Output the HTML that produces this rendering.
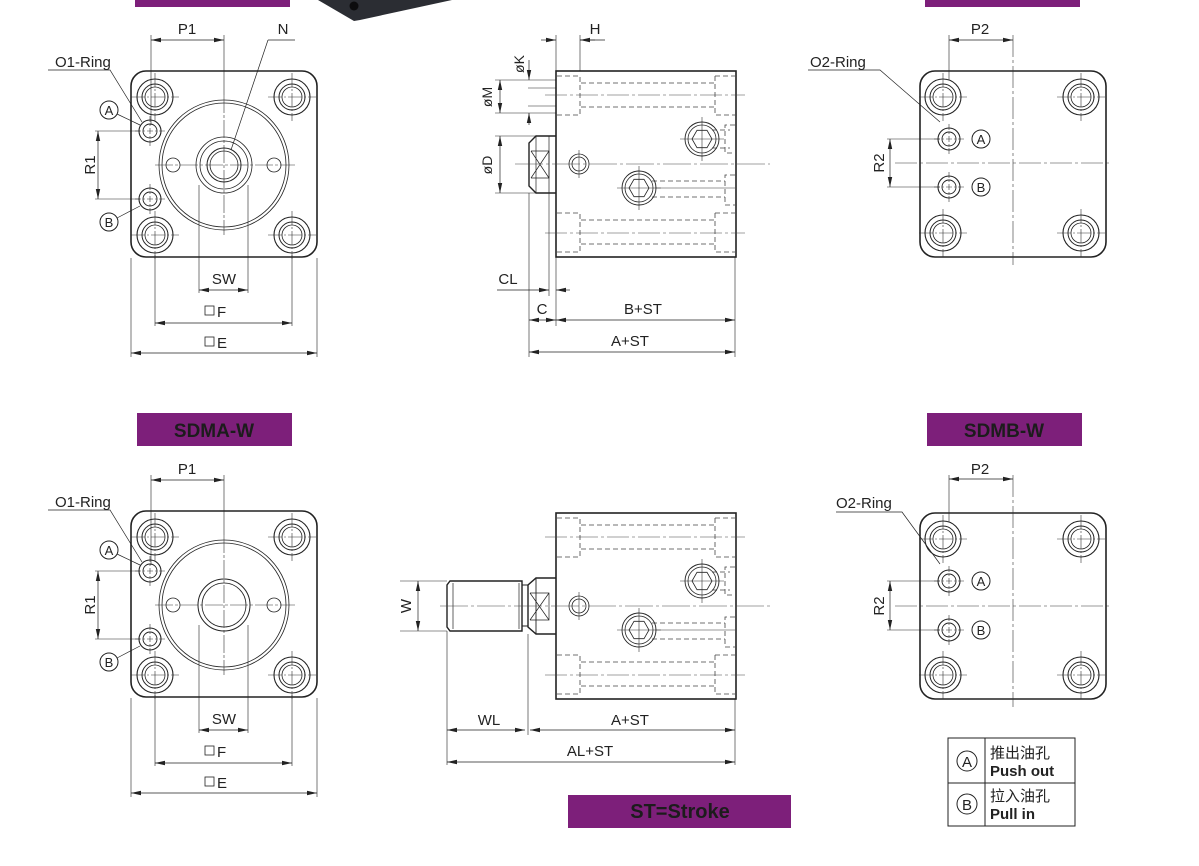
<!DOCTYPE html>
<html><head><meta charset="utf-8"><style>
html,body{margin:0;padding:0;background:#fff;}
svg{display:block;}
text{font-family:"Liberation Sans","Noto Sans CJK SC",sans-serif;fill:#222;}
</style></head><body>
<svg width="1199" height="866" viewBox="0 0 1199 866" xmlns="http://www.w3.org/2000/svg">
<defs>
<marker id="ar" viewBox="0 0 10 6" refX="10" refY="3" markerWidth="10" markerHeight="6" orient="auto-start-reverse" markerUnits="userSpaceOnUse">
<path d="M0,0.8 L10,3 L0,5.2z" fill="#222"/></marker>
<g id="chole">
<circle r="18" fill="none" stroke="#222" stroke-width="1.1"/>
<circle r="13" fill="none" stroke="#222" stroke-width="1"/>
<circle r="10" fill="none" stroke="#222" stroke-width="0.8"/>
<path d="M-24,0H24M0,-24V24" stroke="#333" stroke-width="0.6" stroke-dasharray="14,2,2,2"/>
</g>
<g id="port">
<circle r="11" fill="none" stroke="#222" stroke-width="1.1"/>
<circle r="7" fill="none" stroke="#222" stroke-width="0.9"/>
<path d="M-15,0H15M0,-15V15" stroke="#333" stroke-width="0.6" stroke-dasharray="6,2,2,2"/>
</g>
<g id="circA"><circle r="9" fill="#fff" stroke="#222" stroke-width="1"/><text y="5" text-anchor="middle" font-size="13">A</text></g>
<g id="circB"><circle r="9" fill="#fff" stroke="#222" stroke-width="1"/><text y="5" text-anchor="middle" font-size="13">B</text></g>
<g id="bolt">
<circle r="17" fill="none" stroke="#222" stroke-width="0.9"/>
<circle r="14" fill="none" stroke="#222" stroke-width="0.8"/>
<polygon points="-10,0 -5,-8.7 5,-8.7 10,0 5,8.7 -5,8.7" fill="none" stroke="#222" stroke-width="0.8"/>
<path d="M-22,0H22M0,-22V22" stroke="#333" stroke-width="0.6"/>
</g>
<g id="body">
<rect x="556" y="71" width="180" height="186" fill="none" stroke="#222" stroke-width="1.6"/>
<g fill="none" stroke="#444" stroke-width="0.8" stroke-dasharray="5,3">
<path d="M557,76H580V115H557M581,83H715M581,107H715M715,76H735M715,76V115H735"/>
<path d="M557,213H580V252H557M581,220H715M581,244H715M715,213H735M715,213V252H735"/>
<path d="M735,125H725V153H735M735,175H725V205H735"/>
<path d="M712,130H730M712,148H730M652,181H725M652,197H725"/>
</g>
<path d="M545,95H745M545,233H745" stroke="#444" stroke-width="0.6" stroke-dasharray="22,3,3,3"/>
<use href="#bolt" x="702" y="139"/>
<use href="#bolt" x="639" y="188"/>
<circle cx="579" cy="164" r="10" fill="none" stroke="#222" stroke-width="0.8"/>
<circle cx="579" cy="164" r="7" fill="none" stroke="#222" stroke-width="0.8"/>
<path d="M579,150V178" stroke="#333" stroke-width="0.6"/>
<path d="M655,188H735" stroke="#333" stroke-width="0.6"/>
</g>
<g id="plate1">
<rect x="131" y="71" width="186" height="186" rx="15" fill="none" stroke="#222" stroke-width="1.6"/>
<use href="#chole" x="155" y="97"/><use href="#chole" x="292" y="97"/>
<use href="#chole" x="155" y="235"/><use href="#chole" x="292" y="235"/>
<use href="#port" x="150" y="131"/><use href="#port" x="150" y="199"/>
<circle cx="224" cy="165" r="65" fill="none" stroke="#222" stroke-width="0.8"/>
<circle cx="224" cy="165" r="62" fill="none" stroke="#222" stroke-width="0.8"/>
<circle cx="173" cy="165" r="7" fill="none" stroke="#222" stroke-width="0.8"/>
<circle cx="274" cy="165" r="7" fill="none" stroke="#222" stroke-width="0.8"/>
<path d="M155,165H295M224,95V235" stroke="#333" stroke-width="0.6" stroke-dasharray="18,2,3,2"/>
<use href="#circA" x="109" y="110"/><use href="#circB" x="109" y="222"/>
<path d="M117,114L140,125M117,218L140,206" stroke="#222" stroke-width="0.7"/>
<path d="M48,70H110L142,122" stroke="#222" stroke-width="0.7" fill="none"/>
<path d="M95,131H140M95,199H140M151,35V125" stroke="#222" stroke-width="0.6"/>
<line x1="98" y1="131" x2="98" y2="199" stroke="#222" stroke-width="0.7" marker-start="url(#ar)" marker-end="url(#ar)"/>
<text transform="translate(95,165) rotate(-90)" text-anchor="middle" font-size="15">R1</text>
<line x1="151" y1="40" x2="224" y2="40" stroke="#222" stroke-width="0.7" marker-start="url(#ar)" marker-end="url(#ar)"/>
<path d="M224,35V95" stroke="#222" stroke-width="0.6"/>
<text x="187" y="34" text-anchor="middle" font-size="15">P1</text>
<text x="55" y="67" font-size="15">O1-Ring</text>
<path d="M155,255V326M292,255V326M131,258V357M317,258V357" stroke="#222" stroke-width="0.6"/>
<line x1="155" y1="323" x2="292" y2="323" stroke="#222" stroke-width="0.7" marker-start="url(#ar)" marker-end="url(#ar)"/>
<line x1="131" y1="353" x2="317" y2="353" stroke="#222" stroke-width="0.7" marker-start="url(#ar)" marker-end="url(#ar)"/>
<rect x="205" y="306" width="9" height="9" fill="none" stroke="#222" stroke-width="0.8"/><text x="217" y="317" font-size="15">F</text>
<rect x="205" y="337" width="9" height="9" fill="none" stroke="#222" stroke-width="0.8"/><text x="217" y="348" font-size="15">E</text>
</g>
<g id="plate2">
<rect x="920" y="71" width="186" height="186" rx="15" fill="none" stroke="#222" stroke-width="1.6"/>
<use href="#chole" x="943" y="97"/><use href="#chole" x="1081" y="97"/>
<use href="#chole" x="943" y="233"/><use href="#chole" x="1081" y="233"/>
<use href="#port" x="949" y="139"/><use href="#port" x="949" y="187"/>
<use href="#circA" x="981" y="139"/><use href="#circB" x="981" y="187"/>
<path d="M895,163H1112" stroke="#333" stroke-width="0.6" stroke-dasharray="22,3,3,3"/>
<path d="M1013,35V265" stroke="#333" stroke-width="0.6" stroke-dasharray="22,3,3,3"/>
<path d="M949,35V80M887,139H940M887,187H940" stroke="#222" stroke-width="0.6"/>
<line x1="949" y1="40" x2="1013" y2="40" stroke="#222" stroke-width="0.7" marker-start="url(#ar)" marker-end="url(#ar)"/>
<line x1="890" y1="139" x2="890" y2="187" stroke="#222" stroke-width="0.7" marker-start="url(#ar)" marker-end="url(#ar)"/>
<text x="980" y="34" text-anchor="middle" font-size="15">P2</text>
<text transform="translate(884,163) rotate(-90)" text-anchor="middle" font-size="15">R2</text>
</g>
</defs>

<!-- top banners / photo -->
<rect x="135" y="0" width="155" height="7" fill="#7d1f7a"/>
<rect x="925" y="0" width="155" height="7" fill="#7d1f7a"/>
<polygon points="318,0 452,0 360,20 354,21" fill="#2b2d33"/>
<circle cx="354" cy="6" r="4.5" fill="#0c0c0e"/>

<!-- TOP LEFT -->
<use href="#plate1"/>
<circle cx="224" cy="165" r="28" fill="none" stroke="#222" stroke-width="0.8"/>
<circle cx="224" cy="165" r="24" fill="none" stroke="#222" stroke-width="0.8"/>
<circle cx="224" cy="165" r="17" fill="none" stroke="#222" stroke-width="1"/>
<circle cx="224" cy="165" r="14" fill="none" stroke="#222" stroke-width="0.8"/>
<path d="M199,185V293M248,185V293" stroke="#222" stroke-width="0.6"/>
<line x1="199" y1="290" x2="248" y2="290" stroke="#222" stroke-width="0.7" marker-start="url(#ar)" marker-end="url(#ar)"/>
<text x="224" y="284" text-anchor="middle" font-size="15">SW</text>
<path d="M268,40H295M268,40L231,150" stroke="#222" stroke-width="0.7" fill="none"/>
<text x="283" y="34" text-anchor="middle" font-size="15">N</text>

<!-- TOP MIDDLE -->
<use href="#body"/>
<path d="M556,136H536L529,143V186L536,193H556" fill="none" stroke="#222" stroke-width="1.4"/>
<path d="M536,136V193M549,136V193" stroke="#222" stroke-width="0.7"/>
<path d="M531,151L549,178M549,151L531,178M531,151H549V178H531" fill="none" stroke="#222" stroke-width="0.7"/>
<path d="M515,164H770" stroke="#444" stroke-width="0.6" stroke-dasharray="28,3,3,3"/>
<path d="M556,35V71M580,35V71" stroke="#222" stroke-width="0.6"/>
<line x1="541" y1="40" x2="556" y2="40" stroke="#222" stroke-width="0.7" marker-end="url(#ar)"/>
<line x1="595" y1="40" x2="580" y2="40" stroke="#222" stroke-width="0.7" marker-end="url(#ar)"/>
<line x1="580" y1="40" x2="605" y2="40" stroke="#222" stroke-width="0.7"/>
<text x="595" y="34" text-anchor="middle" font-size="15">H</text>
<path d="M495,80H556M495,113H556M495,136H536M495,193H536M528,88H556M528,106H556" stroke="#222" stroke-width="0.6"/>
<line x1="500" y1="80" x2="500" y2="113" stroke="#222" stroke-width="0.7" marker-start="url(#ar)" marker-end="url(#ar)"/>
<line x1="529" y1="60" x2="529" y2="80" stroke="#222" stroke-width="0.7" marker-end="url(#ar)"/>
<line x1="529" y1="125" x2="529" y2="113" stroke="#222" stroke-width="0.7" marker-end="url(#ar)"/>
<line x1="500" y1="136" x2="500" y2="193" stroke="#222" stroke-width="0.7" marker-start="url(#ar)" marker-end="url(#ar)"/>
<text transform="translate(492,97) rotate(-90)" text-anchor="middle" font-size="14">øM</text>
<text transform="translate(524,64) rotate(-90)" text-anchor="middle" font-size="14">øK</text>
<text transform="translate(492,165) rotate(-90)" text-anchor="middle" font-size="14">øD</text>
<path d="M529,193V357M549,193V296M556,257V326M735,257V357" stroke="#222" stroke-width="0.6"/>
<line x1="497" y1="290" x2="549" y2="290" stroke="#222" stroke-width="0.7" marker-end="url(#ar)"/>
<line x1="570" y1="290" x2="556" y2="290" stroke="#222" stroke-width="0.7" marker-end="url(#ar)"/>
<text x="508" y="284" text-anchor="middle" font-size="15">CL</text>
<line x1="529" y1="320" x2="556" y2="320" stroke="#222" stroke-width="0.7" marker-start="url(#ar)" marker-end="url(#ar)"/>
<text x="542" y="314" text-anchor="middle" font-size="15">C</text>
<line x1="556" y1="320" x2="735" y2="320" stroke="#222" stroke-width="0.7" marker-start="url(#ar)" marker-end="url(#ar)"/>
<text x="643" y="314" text-anchor="middle" font-size="15">B+ST</text>
<line x1="529" y1="352" x2="735" y2="352" stroke="#222" stroke-width="0.7" marker-start="url(#ar)" marker-end="url(#ar)"/>
<text x="630" y="346" text-anchor="middle" font-size="15">A+ST</text>

<!-- TOP RIGHT -->
<use href="#plate2"/>
<path d="M808,70H880L940,122" stroke="#222" stroke-width="0.7" fill="none"/>
<text x="810" y="67" font-size="15">O2-Ring</text>

<!-- banners middle -->
<rect x="137" y="413" width="155" height="33" fill="#7d1f7a"/>
<text x="214" y="437" text-anchor="middle" font-size="19" font-weight="bold" style="fill:#1c1c1c">SDMA-W</text>
<rect x="927" y="413" width="155" height="33" fill="#7d1f7a"/>
<text x="1004" y="437" text-anchor="middle" font-size="19" font-weight="bold" style="fill:#1c1c1c">SDMB-W</text>

<!-- BOTTOM LEFT -->
<use href="#plate1" y="440"/>
<circle cx="224" cy="605" r="26" fill="none" stroke="#222" stroke-width="1"/>
<circle cx="224" cy="605" r="22" fill="none" stroke="#222" stroke-width="0.8"/>
<path d="M199,625V733M248,625V733" stroke="#222" stroke-width="0.6"/>
<line x1="199" y1="730" x2="248" y2="730" stroke="#222" stroke-width="0.7" marker-start="url(#ar)" marker-end="url(#ar)"/>
<text x="224" y="724" text-anchor="middle" font-size="15">SW</text>

<!-- BOTTOM MIDDLE -->
<use href="#body" y="442"/>
<path d="M556,578H536L528,585V627L536,634H556" fill="none" stroke="#222" stroke-width="1.4"/>
<path d="M528,585H522V626H528M536,578V634" stroke="#222" stroke-width="0.9" fill="none"/>
<path d="M530,593L549,620M549,593L530,620M530,593H549V620H530" fill="none" stroke="#222" stroke-width="0.7"/>
<path d="M522,581H450L447,585V627L450,631H522Z" fill="none" stroke="#222" stroke-width="1.4"/>
<path d="M453,583V629M519,583V629" stroke="#222" stroke-width="0.7"/>
<path d="M440,606H770" stroke="#444" stroke-width="0.6" stroke-dasharray="28,3,3,3"/>
<path d="M400,581H447M400,631H447" stroke="#222" stroke-width="0.6"/>
<line x1="418" y1="581" x2="418" y2="631" stroke="#222" stroke-width="0.7" marker-start="url(#ar)" marker-end="url(#ar)"/>
<text transform="translate(411,606) rotate(-90)" text-anchor="middle" font-size="15">W</text>
<path d="M447,631V765M528,634V735M735,699V765" stroke="#222" stroke-width="0.6"/>
<line x1="447" y1="730" x2="525" y2="730" stroke="#222" stroke-width="0.7" marker-start="url(#ar)" marker-end="url(#ar)"/>
<line x1="530" y1="730" x2="735" y2="730" stroke="#222" stroke-width="0.7" marker-start="url(#ar)" marker-end="url(#ar)"/>
<line x1="447" y1="762" x2="735" y2="762" stroke="#222" stroke-width="0.7" marker-start="url(#ar)" marker-end="url(#ar)"/>
<text x="489" y="725" text-anchor="middle" font-size="15">WL</text>
<text x="630" y="725" text-anchor="middle" font-size="15">A+ST</text>
<text x="590" y="756" text-anchor="middle" font-size="15">AL+ST</text>
<rect x="568" y="795" width="223" height="33" fill="#7d1f7a"/>
<text x="680" y="818" text-anchor="middle" font-size="20" font-weight="bold" style="fill:#1c1c1c">ST=Stroke</text>

<!-- BOTTOM RIGHT -->
<g transform="translate(0,442)">
<rect x="920" y="71" width="186" height="186" rx="15" fill="none" stroke="#222" stroke-width="1.6"/>
<use href="#chole" x="943" y="97"/><use href="#chole" x="1081" y="97"/>
<use href="#chole" x="943" y="233"/><use href="#chole" x="1081" y="233"/>
<use href="#port" x="949" y="139"/><use href="#port" x="949" y="188"/>
<use href="#circA" x="981" y="139"/><use href="#circB" x="981" y="188"/>
<path d="M895,164H1112" stroke="#333" stroke-width="0.6" stroke-dasharray="22,3,3,3"/>
<path d="M1013,33V265" stroke="#333" stroke-width="0.6" stroke-dasharray="22,3,3,3"/>
<path d="M949,33V80M887,139H940M887,188H940" stroke="#222" stroke-width="0.6"/>
<line x1="949" y1="37" x2="1013" y2="37" stroke="#222" stroke-width="0.7" marker-start="url(#ar)" marker-end="url(#ar)"/>
<line x1="890" y1="139" x2="890" y2="188" stroke="#222" stroke-width="0.7" marker-start="url(#ar)" marker-end="url(#ar)"/>
<text x="980" y="32" text-anchor="middle" font-size="15">P2</text>
<text transform="translate(884,164) rotate(-90)" text-anchor="middle" font-size="15">R2</text>
<path d="M836,70H902L940,122" stroke="#222" stroke-width="0.7" fill="none"/>
<text x="836" y="66" font-size="15">O2-Ring</text>
</g>

<!-- legend -->
<rect x="948" y="738" width="127" height="88" fill="none" stroke="#222" stroke-width="1"/>
<path d="M948,783H1075M985,738V826" stroke="#222" stroke-width="1"/>
<circle cx="967" cy="761" r="10" fill="none" stroke="#222" stroke-width="1"/><text x="967" y="767" text-anchor="middle" font-size="15">A</text>
<circle cx="967" cy="804" r="10" fill="none" stroke="#222" stroke-width="1"/><text x="967" y="810" text-anchor="middle" font-size="15">B</text>
<text x="990" y="758" font-size="15">推出油孔</text>
<text x="990" y="776" font-size="15" font-weight="bold">Push out</text>
<text x="990" y="801" font-size="15">拉入油孔</text>
<text x="990" y="819" font-size="15" font-weight="bold">Pull in</text>
</svg>
</body></html>
